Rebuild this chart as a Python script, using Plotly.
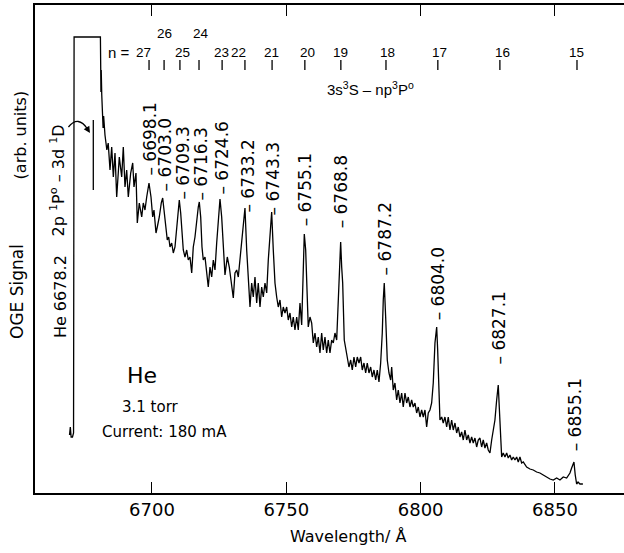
import plotly.graph_objects as go

# ---- spectrum trace (wavelength in Å, OGE signal in arbitrary units) ----
wavelength = [
    6669.3, 6669.6, 6669.9, 6670.4, 6670.8, 6671.0, 6680.8, 6680.9, 6681.0, 6681.1,
    6681.3, 6681.6, 6681.8, 6682.0, 6682.5, 6683.2, 6683.7,
    6684.37, 6685.00, 6685.60, 6686.23, 6686.86, 6687.83, 6688.72, 6689.32, 6689.95, 6690.58,
    6691.18, 6692.07, 6692.82, 6693.30, 6694.04, 6694.53, 6695.27, 6696.17, 6696.76, 6697.39,
    6698.03, 6698.88, 6699.63, 6700.26, 6700.74, 6701.49, 6701.97, 6702.72, 6703.46, 6703.98,
    6704.47, 6705.21, 6705.69, 6706.22, 6706.70, 6707.33, 6707.93, 6708.56, 6709.19, 6709.68,
    6710.16, 6710.68, 6711.17, 6711.65, 6712.28, 6712.92, 6713.51, 6714.14, 6714.78, 6715.37,
    6716.00, 6716.64, 6717.23, 6717.61, 6718.13, 6718.61, 6719.09, 6719.73, 6720.36, 6720.95,
    6721.59, 6722.22, 6722.82, 6723.45, 6724.08, 6724.68, 6725.31, 6725.94, 6726.54, 6727.17,
    6728.03, 6728.77, 6729.40, 6730.26, 6730.89, 6731.53, 6732.12, 6733.01, 6733.76, 6734.61,
    6735.25, 6735.84, 6736.48, 6737.11, 6737.70, 6738.34, 6738.97, 6739.56, 6740.20, 6740.83,
    6741.43, 6742.06, 6742.69, 6743.29, 6743.92, 6744.55, 6745.15, 6745.78, 6746.41, 6747.01,
    6747.64, 6748.27, 6748.87, 6749.50, 6750.14, 6750.73, 6751.36, 6752.00, 6752.59, 6753.22,
    6753.86, 6754.45, 6755.09, 6755.72, 6756.31, 6756.69, 6757.21, 6757.58, 6758.17, 6758.81,
    6759.44, 6760.04, 6760.67, 6761.30, 6761.90, 6762.53, 6763.16, 6763.76, 6764.39, 6765.02,
    6765.62, 6766.25, 6766.88, 6767.48, 6768.11, 6768.75, 6769.34, 6769.71, 6770.23, 6770.61,
    6770.98, 6771.57, 6772.09, 6772.69, 6773.32, 6773.96, 6774.55, 6775.18, 6775.82, 6776.41,
    6777.05, 6777.68, 6778.27, 6778.91, 6779.54, 6780.13, 6780.77, 6781.40, 6782.00, 6782.63,
    6783.26, 6783.86, 6784.49, 6785.12, 6785.72, 6786.09, 6786.46, 6786.98, 6787.58, 6788.21,
    6788.84, 6789.22, 6789.81, 6790.44, 6791.08, 6791.67, 6792.31, 6792.94, 6793.53, 6794.17,
    6794.80, 6795.40, 6796.03, 6796.66, 6797.26, 6797.89, 6798.52, 6799.12, 6799.75, 6800.38,
    6800.98, 6801.61, 6802.24, 6802.84, 6803.47, 6804.10, 6804.70, 6805.33, 6805.97, 6806.34,
    6806.71, 6807.19, 6807.83, 6808.42, 6809.05, 6809.69, 6810.28, 6810.92, 6811.55, 6812.14,
    6812.78, 6813.41, 6814.00, 6814.64, 6815.27, 6815.87, 6816.50, 6817.13, 6817.73, 6818.36,
    6818.99, 6819.59, 6820.22, 6820.85, 6821.45, 6822.08, 6822.71, 6823.31, 6823.94, 6824.57,
    6825.17, 6825.80, 6826.44, 6827.03, 6827.66, 6828.30, 6828.89, 6829.27, 6829.79, 6830.16,
    6830.75, 6831.39, 6832.02, 6832.61, 6833.25, 6833.88, 6834.48, 6835.11, 6835.74, 6836.34,
    6836.97, 6837.60, 6838.20, 6839.46, 6840.69, 6841.92, 6843.18, 6844.41, 6845.64, 6846.91,
    6848.14, 6849.36, 6850.63, 6851.86, 6853.09, 6854.35, 6855.58, 6856.21, 6857.07, 6857.55,
    6858.07, 6858.60, 6859.30, 6860.40,
]
signal = [
    58, 66, 56, 56, 60, 456, 456, 431, 401, 423,
    398, 378, 365, 377, 358, 343, 350,
    323, 346, 316, 340, 296, 336, 316, 346, 306, 323,
    296, 320, 330, 306, 320, 270, 290, 276, 290, 283,
    296, 310, 296, 276, 283, 260, 266, 276, 290, 295,
    283, 266, 253, 256, 246, 250, 240, 246, 266, 283,
    293, 280, 263, 243, 236, 243, 233, 236, 220, 246,
    256, 273, 286, 291, 276, 246, 233, 236, 216, 206,
    226, 216, 233, 223, 250, 276, 294, 276, 243, 218,
    236, 226, 213, 195, 220, 223, 216, 243, 266, 285,
    243, 216, 186, 210, 196, 216, 190, 210, 186, 206,
    196, 210, 200, 233, 260, 281, 243, 210, 196, 186,
    193, 176, 186, 180, 186, 173, 180, 166, 176, 163,
    176, 163, 190, 168, 223, 259, 243, 210, 166, 176,
    170, 150, 160, 146, 156, 140, 160, 143, 156, 140,
    153, 140, 153, 150, 160, 153, 193, 226, 251, 226,
    210, 153, 146, 136, 126, 133, 123, 136, 126, 136,
    130, 136, 123, 130, 120, 130, 120, 126, 116, 123,
    113, 123, 111, 130, 160, 193, 210, 176, 133, 120,
    113, 126, 103, 110, 93, 103, 90, 100, 86, 100,
    90, 96, 86, 93, 86, 90, 80, 86, 76, 83,
    76, 83, 66, 80, 83, 90, 110, 150, 166, 143,
    103, 73, 76, 70, 76, 66, 76, 63, 73, 63,
    70, 60, 66, 56, 61, 53, 63, 53, 58, 50,
    56, 50, 55, 46, 53, 55, 46, 53, 45, 50,
    43, 40, 53, 63, 73, 93, 108, 86, 63, 36,
    40, 36, 40, 35, 38, 33, 36, 33, 36, 31,
    36, 30, 31, 26, 24, 23, 21, 20, 18, 16,
    14, 13, 15, 13, 16, 15, 20, 25, 31, 18,
    9, 11, 9, 9,
]

# ---- peak labels (3s 3S - np 3P series) ----
peak_labels = ["6698.1", "6703.0", "6709.3", "6716.3", "6724.6", "6733.2", "6743.3",
               "6755.1", "6768.8", "6787.2", "6804.0", "6827.1", "6855.1"]
peak_label_x = [6698.9, 6704.8, 6711.2, 6717.9, 6725.7, 6735.4, 6745.0,
                6756.9, 6770.3, 6786.7, 6806.4, 6828.8, 6857.4]
peak_label_y = [315, 300, 291, 290, 296, 278, 276, 265, 263, 216, 171, 126, 40]

# ---- principal quantum number marks ----
n_labels = ["27", "26", "25", "24", "23", "22", "21", "20", "19", "18", "17", "16", "15"]
n_label_x = [6697.0, 6704.5, 6711.2, 6718.2, 6725.7, 6732.2, 6744.3,
             6757.7, 6770.3, 6787.5, 6807.2, 6830.3, 6858.2]
n_label_y = [441, 460, 441, 460, 441, 441, 441, 441, 441, 441, 441, 441, 441]
n_tick_x = [6698.9, 6704.5, 6710.4, 6717.5, 6726.1, 6734.6, 6744.7,
            6756.9, 6770.3, 6787.1, 6806.4, 6829.5, 6858.2]
n_tick_bottom, n_tick_top = 423, 433

x_ticks = [6700, 6750, 6800, 6850]

FONT = "DejaVu Sans"
BLACK = "black"

fig = go.Figure()
fig.add_trace(go.Scatter(x=wavelength, y=signal, mode="lines",
                         line=dict(color=BLACK, width=1.3), hoverinfo="skip",
                         showlegend=False))

# n tick marks
tx, ty = [], []
for xv in n_tick_x:
    tx += [xv, xv, None]
    ty += [n_tick_bottom, n_tick_top, None]
fig.add_trace(go.Scatter(x=tx, y=ty, mode="lines", line=dict(color=BLACK, width=1.3),
                         hoverinfo="skip", showlegend=False))

# 2p1P - 3d1D marker line
fig.add_trace(go.Scatter(x=[6678.15, 6678.15], y=[303, 373], mode="lines",
                         line=dict(color=BLACK, width=1.3), hoverinfo="skip",
                         showlegend=False))

ann = []
for t, xv, yv in zip(peak_labels, peak_label_x, peak_label_y):
    ann.append(dict(x=xv, y=yv, xref="x", yref="y", text="–\u00a0" + t, textangle=-90,
                    showarrow=False, xanchor="center", yanchor="bottom",
                    font=dict(family=FONT, size=17, color=BLACK)))
for t, xv, yv in zip(n_labels, n_label_x, n_label_y):
    ann.append(dict(x=xv, y=yv, xref="x", yref="y", text=t, showarrow=False,
                    font=dict(family="Liberation Sans", size=13.5, color=BLACK)))
ann.append(dict(x=6687.7, y=441, xref="x", yref="y", text="n =", showarrow=False,
                font=dict(family="Liberation Sans", size=15, color=BLACK)))
ann.append(dict(x=6781.5, y=405, xref="x", yref="y",
                text="3s<sup>3</sup>S – np<sup>3</sup>P<sup>o</sup>", showarrow=False,
                font=dict(family="Liberation Sans", size=15, color=BLACK)))
ann.append(dict(x=6696.3, y=118, xref="x", yref="y", text="He", showarrow=False,
                font=dict(family=FONT, size=22, color=BLACK)))
ann.append(dict(x=6699.3, y=86, xref="x", yref="y", text="3.1 torr", showarrow=False,
                font=dict(family=FONT, size=15, color=BLACK)))
ann.append(dict(x=6704.8, y=61, xref="x", yref="y", text="Current: 180 mA", showarrow=False,
                font=dict(family=FONT, size=15, color=BLACK)))
ann.append(dict(x=6665.8, y=196, xref="x", yref="y", text="He 6678.2", textangle=-90,
                showarrow=False, font=dict(family=FONT, size=16, color=BLACK)))
ann.append(dict(x=6664.8, y=313, xref="x", yref="y",
                text="2p <sup>1</sup>P<sup>o</sup> – 3d <sup>1</sup>D", textangle=-90,
                showarrow=False, font=dict(family=FONT, size=16, color=BLACK)))
# arrowhead at end of curved arrow
ann.append(dict(x=6676.9, y=360, ax=6675.3, ay=367, xref="x", yref="y", axref="x", ayref="y",
                text="", showarrow=True, arrowhead=2, arrowsize=1, arrowwidth=1.3,
                arrowcolor=BLACK))
# axis titles
ann.append(dict(x=0.531, y=-0.09, xref="paper", yref="paper", text="Wavelength/ Å",
                xanchor="center", yanchor="middle",
                showarrow=False, font=dict(family=FONT, size=16, color=BLACK)))
ann.append(dict(x=-0.0306, y=0.414, xref="paper", yref="paper", text="OGE Signal",
                xanchor="center", yanchor="middle",
                textangle=-90, showarrow=False, font=dict(family=FONT, size=17, color=BLACK)))
ann.append(dict(x=-0.0245, y=0.734, xref="paper", yref="paper", text="(arb. units)",
                xanchor="center", yanchor="middle",
                textangle=-90, showarrow=False, font=dict(family=FONT, size=16, color=BLACK)))

shapes = [dict(type="path", xref="x", yref="y",
               path="M 6668.9,366 Q 6672.6,378 6676.0,364",
               line=dict(color=BLACK, width=1.3))]

fig.update_layout(
    width=624, height=553,
    margin=dict(l=35, r=0, t=5, b=60, autoexpand=False),
    paper_bgcolor="white", plot_bgcolor="white",
    template="none",
    showlegend=False,
    annotations=ann,
    shapes=shapes,
    xaxis=dict(range=[6656.45, 6875.7], showgrid=False, zeroline=False,
               showline=True, linecolor=BLACK, linewidth=1.5, mirror="ticks",
               ticks="inside", ticklen=11, tickwidth=1.3, tickcolor=BLACK,
               tickvals=x_ticks, ticktext=[str(v) for v in x_ticks],
               tickfont=dict(family=FONT, size=18, color=BLACK)),
    yaxis=dict(range=[0, 488], showgrid=False, zeroline=False, showline=True,
               linecolor=BLACK, linewidth=1.5, showticklabels=False, ticks=""),
)

fig.write_html("out.html", config={"displayModeBar": False},
               post_script="document.body.style.margin='0';document.body.style.overflow='hidden';")
